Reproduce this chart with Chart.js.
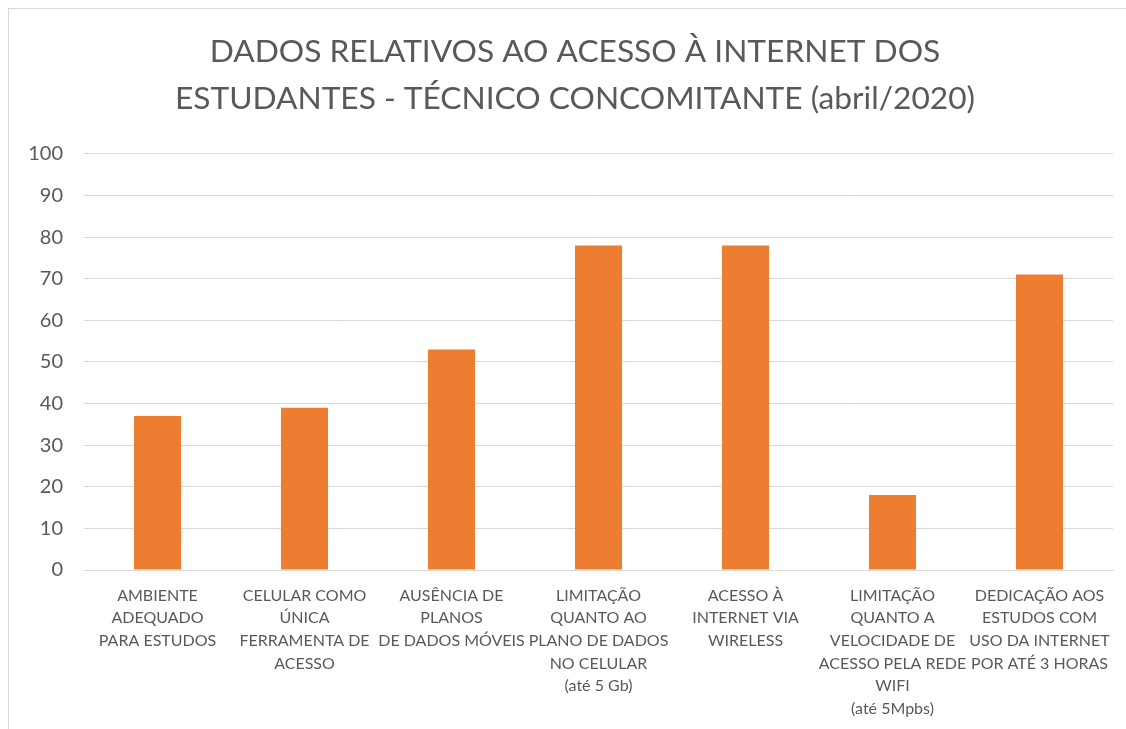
<!DOCTYPE html>
<html lang="pt">
  <head>
    <meta charset="UTF-8" />
    <title>Acesso à internet - Técnico Concomitante</title>
    <style>
      html,
      body {
        margin: 0;
        padding: 0;
        background: #ffffff;
        overflow: hidden;
      }
      #box {
        position: absolute;
        left: 8px;
        top: 8px;
        width: 1118px;
        height: 730px;
        border-left: 1px solid #d9d9d9;
        border-top: 1px solid #d9d9d9;
        box-sizing: border-box;
      }
      canvas {
        display: block;
      }
    </style>
  </head>
  <body>
    <div id="box">
      <canvas id="grafico" width="1117" height="720"></canvas>
    </div>

    <script src="https://cdn.jsdelivr.net/npm/chart.js"></script>
    <script>
      const tituloLinhas = [
        "DADOS RELATIVOS AO ACESSO À INTERNET DOS",
        "ESTUDANTES - TÉCNICO CONCOMITANTE (abril/2020)",
      ];

      const categorias = [
        ["AMBIENTE", "ADEQUADO", "PARA ESTUDOS"],
        ["CELULAR COMO", "ÚNICA", "FERRAMENTA DE", "ACESSO"],
        ["AUSÊNCIA DE", "PLANOS", "DE DADOS MÓVEIS"],
        ["LIMITAÇÃO", "QUANTO AO", "PLANO DE DADOS", "NO CELULAR", "(até 5 Gb)"],
        ["ACESSO À", "INTERNET VIA", "WIRELESS"],
        ["LIMITAÇÃO", "QUANTO A", "VELOCIDADE DE", "ACESSO PELA REDE", "WIFI", "(até 5Mpbs)"],
        ["DEDICAÇÃO AOS", "ESTUDOS COM", "USO DA INTERNET", "POR ATÉ 3 HORAS"],
      ];

      const valores = [37, 39, 53, 78, 78, 18, 71];

      const eixoY = { min: 0, max: 100, passo: 10 };

      const fonte = "Lato, 'Open Sans', sans-serif";
      const cinza = "#595959";
      const linha = "#d9d9d9";

      const ctx = document.getElementById("grafico").getContext("2d");

      // o título fica centrado na caixa toda, não só entre os paddings
      const centrarTitulo = {
        id: "centrarTitulo",
        afterLayout(chart) {
          if (chart.titleBlock) {
            chart.titleBlock.left = 28;
          }
        },
      };

      new Chart(ctx, {
        type: "bar",
        data: {
          labels: categorias,
          datasets: [
            {
              label: "Estudantes",
              data: valores,
              backgroundColor: "#ed7d31",
              borderWidth: 0,
              barPercentage: 0.32,
              categoryPercentage: 1,
            },
          ],
        },
        options: {
          responsive: false,
          animation: false,
          layout: {
            padding: { left: 0, right: 13, top: 0, bottom: 0 },
          },
          plugins: {
            legend: { display: false },
            tooltip: { enabled: false },
            title: {
              display: true,
              text: tituloLinhas,
              color: cinza,
              font: { family: fonte, size: 31.7, weight: "normal", lineHeight: 1.48 },
              padding: { top: 19, bottom: 32 },
            },
          },
          scales: {
            x: {
              grid: { display: false, drawTicks: false },
              border: { color: linha, width: 1 },
              ticks: {
                color: cinza,
                font: { family: fonte, size: 16, lineHeight: 1.42 },
                maxRotation: 0,
                minRotation: 0,
                autoSkip: false,
                padding: 14,
              },
              afterFit: (scale) => {
                scale.height = 159;
              },
            },
            y: {
              min: eixoY.min,
              max: eixoY.max,
              grid: { color: linha, lineWidth: 1, drawTicks: false },
              border: { display: false },
              ticks: {
                stepSize: eixoY.passo,
                color: cinza,
                font: { family: fonte, size: 20 },
                padding: 21,
              },
              afterFit: (scale) => {
                scale.width = 75;
              },
            },
          },
        },
        plugins: [centrarTitulo],
      });
    </script>
  </body>
</html>
